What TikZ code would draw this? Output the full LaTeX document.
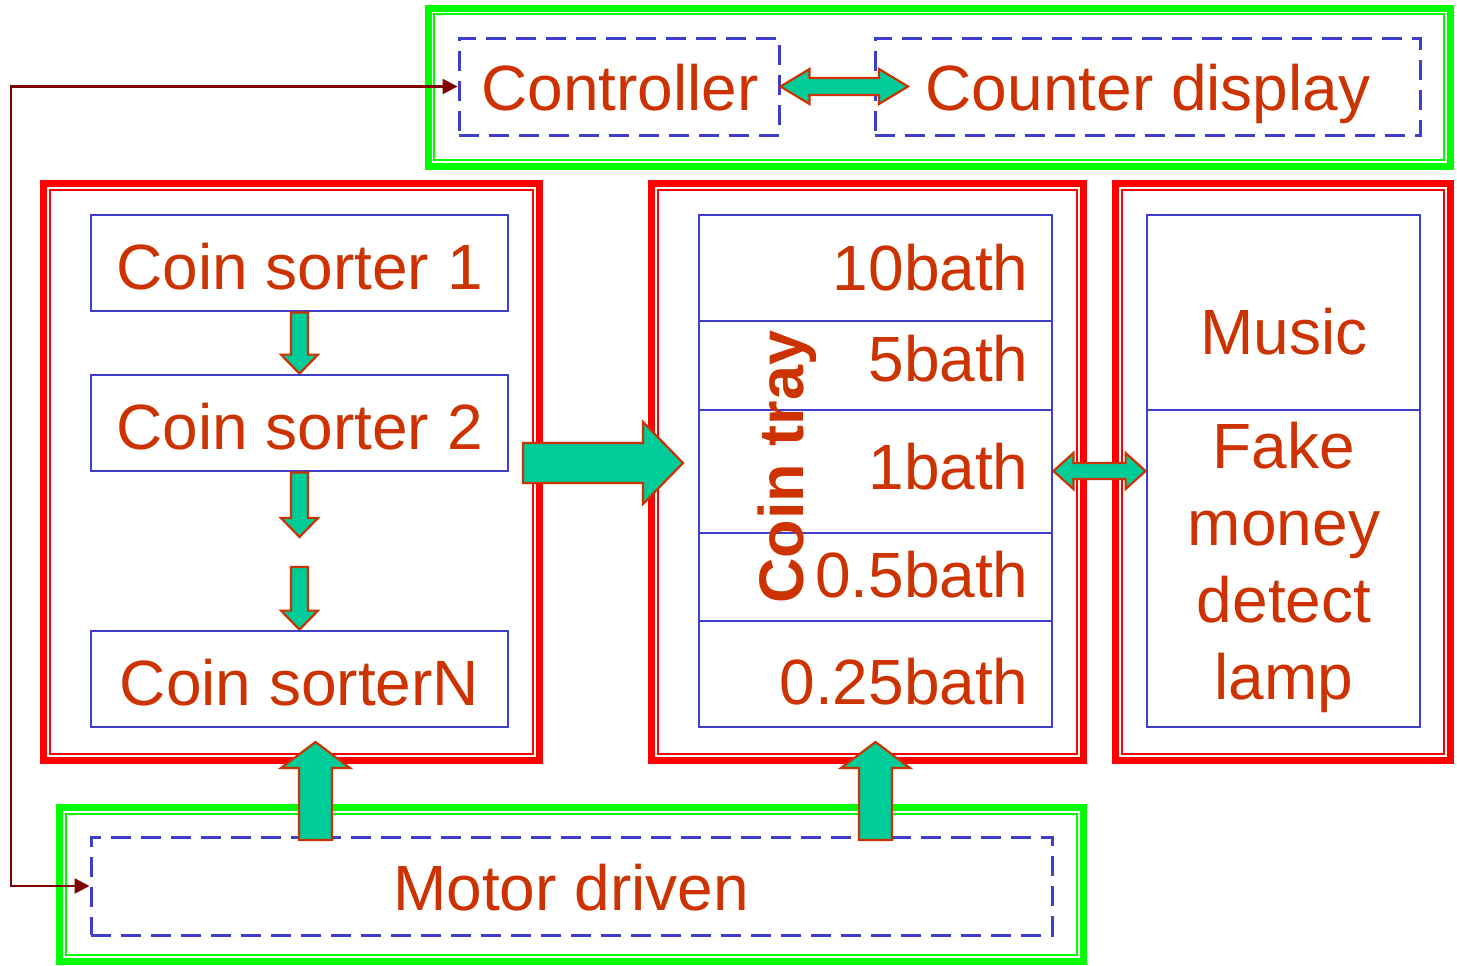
\documentclass[tikz,border=0pt]{standalone}
\usepackage{fontspec}
\setmainfont{Liberation Sans}
\usetikzlibrary{arrows.meta,calc,fit}

\definecolor{txt}{HTML}{CC3300}
\definecolor{bluebox}{HTML}{3F3FCC}
\definecolor{framered}{HTML}{FF0000}
\definecolor{framegreen}{HTML}{00FF00}
\definecolor{blkfill}{HTML}{00CC99}
\definecolor{wire}{HTML}{800000}

\tikzset{
  lbl/.style={text=txt, font=\fontsize{32}{38}\selectfont, inner sep=0pt},
  traylbl/.style={lbl, anchor=base east},
  solidbox/.style={draw=bluebox, line width=1.4pt, inner sep=0pt},
  dashbox/.style={solidbox, line width=1.5pt, dash pattern=on 10pt off 5pt},
  outerframe/.style={draw=#1, line width=3.5pt, inner sep=0pt},
  innerframe/.style={draw=#1, line width=1pt, inner sep=0pt},
  blk/.style={fill=blkfill, draw=txt, line width=1.1pt, line join=miter},
  wirestyle/.style={draw=wire, line width=1.3pt,
    {Triangle[length=7.5pt,width=7.5pt]}-{Triangle[length=7.5pt,width=7.5pt]}}
}

% vertical block arrow, head at #2; #3 half shaft, #4 half head, #5 head length
\newcommand\blkv[5]{\path[blk] let \p1=#1, \p2=#2, \n1={sign(\y2-\y1)*#5} in
  (\x1-#3,\y1) -- (\x1-#3,\y2-\n1*1pt) -- (\x1-#4,\y2-\n1*1pt) -- (\x1,\y2)
  -- (\x1+#4,\y2-\n1*1pt) -- (\x1+#3,\y2-\n1*1pt) -- (\x1+#3,\y1) -- cycle;}
% horizontal block arrow, head at #2
\newcommand\blkh[5]{\path[blk] let \p1=#1, \p2=#2, \n1={sign(\x2-\x1)*#5} in
  (\x1,\y1-#3) -- (\x2-\n1*1pt,\y1-#3) -- (\x2-\n1*1pt,\y1-#4) -- (\x2,\y1)
  -- (\x2-\n1*1pt,\y1+#4) -- (\x2-\n1*1pt,\y1+#3) -- (\x1,\y1+#3) -- cycle;}
% horizontal block arrow with heads at both ends
\newcommand\blkhh[5]{\path[blk] let \p1=#1, \p2=#2, \n1={sign(\x2-\x1)*#5} in
  (\x1,\y1) -- (\x1+\n1*1pt,\y1+#4) -- (\x1+\n1*1pt,\y1+#3) -- (\x2-\n1*1pt,\y1+#3)
  -- (\x2-\n1*1pt,\y1+#4) -- (\x2,\y1) -- (\x2-\n1*1pt,\y1-#4) -- (\x2-\n1*1pt,\y1-#3)
  -- (\x1+\n1*1pt,\y1-#3) -- (\x1+\n1*1pt,\y1-#4) -- cycle;}

\begin{document}
\begin{tikzpicture}[x=0.5pt, y=-0.5pt]
\useasboundingbox (0,0) rectangle (1457,965);

% ---- group frames (thick outer line with thin inner line)
\node[outerframe=framegreen, fit={(428,8) (1450,166)}] (topF) {};
\node[innerframe=framegreen, fit={(434,14) (1444,160)}] (topFi) {};
\node[outerframe=framered, fit={(43.5,183.5) (539.5,760)}] (sortF) {};
\node[innerframe=framered, fit={(50,190) (533,753.5)}] (sortFi) {};
\node[outerframe=framered, fit={(651.5,183.5) (1083.5,760)}] (trayF) {};
\node[innerframe=framered, fit={(657.5,190) (1077,753.5)}] (trayFi) {};
\node[outerframe=framered, fit={(1115.5,183.5) (1450.5,760)}] (sideF) {};
\node[innerframe=framered, fit={(1122,190) (1444,753.5)}] (sideFi) {};
\node[outerframe=framegreen, fit={(59.5,807.5) (1083.5,961)}] (motF) {};
\node[innerframe=framegreen, fit={(66,814) (1077,955)}] (motFi) {};

% ---- controller and display
\node[dashbox, fit={(459,38) (779,135)}] (ctrl) {};
\node[lbl, anchor=base] (ctrlT) at (620,110) {Controller};
\node[dashbox, fit={(875,38) (1420,135)}] (disp) {};
\node[lbl, anchor=base] (dispT) at (1148,110) {Counter display};

% ---- coin sorters
\node[solidbox, fit={(91,215) (508,311)}] (s1) {};
\node[lbl, anchor=base] (s1T) at (299.5,289) {Coin sorter 1};
\node[solidbox, fit={(91,375) (508,471)}] (s2) {};
\node[lbl, anchor=base] (s2T) at (299.5,449) {Coin sorter 2};
\node[solidbox, fit={(91,631) (508,727)}] (sN) {};
\node[lbl, anchor=base] (sNT) at (299.5,705) {Coin sorterN};

% ---- coin tray
\node[solidbox, fit={(699,215) (1052,727)}] (tray) {};
\draw[solidbox] (699,321) -- (1052,321);
\draw[solidbox] (699,410) -- (1052,410);
\draw[solidbox] (699,533) -- (1052,533);
\draw[solidbox] (699,621) -- (1052,621);
\node[traylbl] (b10) at (1029,290) {10bath};
\node[traylbl] (b5) at (1029,381) {5bath};
\node[traylbl] (b1) at (1029,489) {1bath};
\node[traylbl] (b05) at (1029,597) {0.5bath};
\node[traylbl] (b025) at (1029,704) {0.25bath};
\node[lbl, font=\fontsize{31.5}{36}\bfseries, rotate=90, anchor=base] (trayT) at (803,467) {Coin tray};

% ---- music / fake money lamp
\node[solidbox, fit={(1147,215) (1420,727)}] (side) {};
\draw[solidbox] (1147,410) -- (1420,410);
\node[lbl, anchor=base] (musT) at (1284,354) {Music};
\node[lbl, anchor=base] (fk1) at (1284,468) {Fake};
\node[lbl, anchor=base] (fk2) at (1284,545) {money};
\node[lbl, anchor=base] (fk3) at (1284,622) {detect};
\node[lbl, anchor=base] (fk4) at (1284,699) {lamp};

% ---- motor
\node[dashbox, fit={(91,837) (1052,935)}] (motor) {};
\node[lbl, anchor=base] (motT) at (571,910) {Motor driven};

% ---- free ends of block arrows
\coordinate (gapA) at (299.5,537);
\coordinate (gapB) at (299.5,567);
\coordinate (bigFrom) at (523,463);
\coordinate (bigTo) at (683,463);
\coordinate (dispIn) at (908,87);
\coordinate (upAfrom) at (315.5,840);
\coordinate (upAto) at (315.5,742);
\coordinate (upBfrom) at (875.5,840);
\coordinate (upBto) at (875.5,742);
\coordinate (wireBend) at (11,0);

% ---- block arrows
\blkv{(s1.south)}{(s2.north)}{4.25pt}{9.25pt}{9.5pt}
\blkv{(s2.south)}{(gapA)}{4.25pt}{9.25pt}{9.5pt}
\blkv{(gapB)}{(sN.north)}{4.25pt}{9.25pt}{9.5pt}
\blkh{(bigFrom)}{(bigTo)}{10pt}{20.5pt}{20pt}
\blkhh{(ctrl.east)}{(dispIn)}{4.25pt}{8.75pt}{14.5pt}
\blkhh{(tray.east)}{(side.west)}{4pt}{9pt}{10pt}
\blkv{(upAfrom)}{(upAto)}{8.25pt}{17.25pt}{13pt}
\blkv{(upBfrom)}{(upBto)}{8.25pt}{17.25pt}{13pt}

% ---- control wire between controller and motor
\draw[wirestyle] (motor.west) -- (wireBend |- motor.west) -- (wireBend |- ctrl.west) -- (ctrl.west);
\end{tikzpicture}
\end{document}
